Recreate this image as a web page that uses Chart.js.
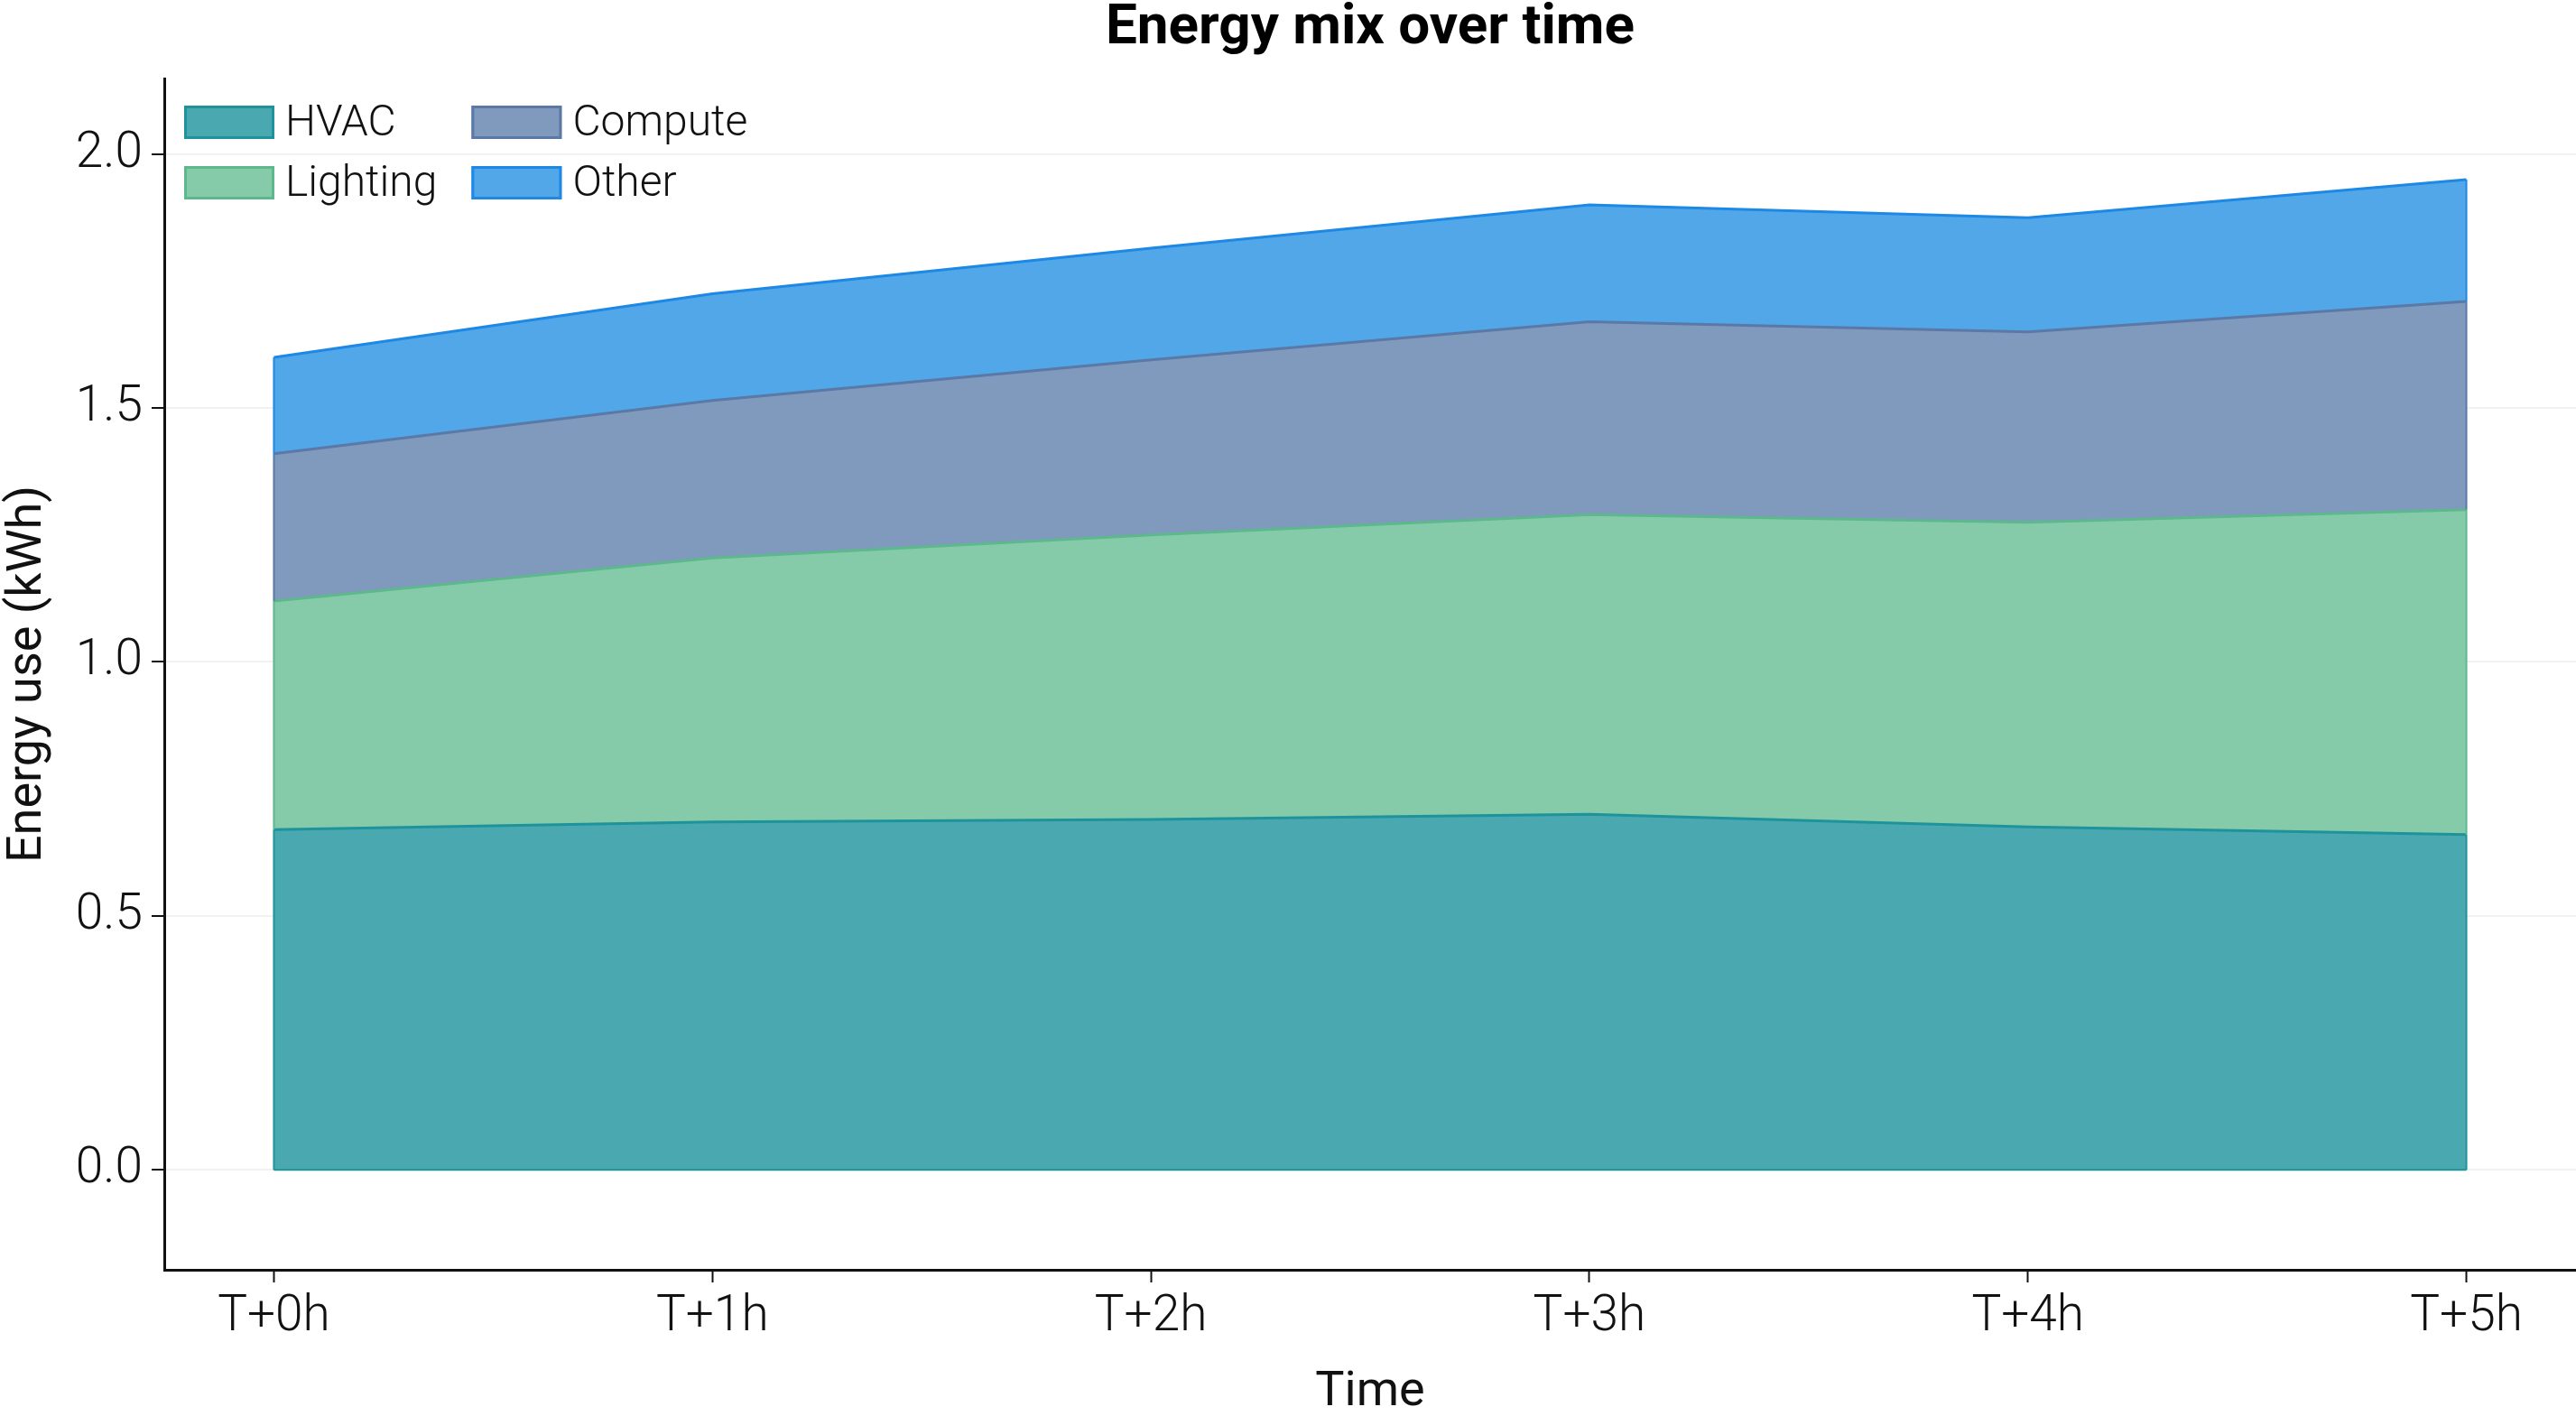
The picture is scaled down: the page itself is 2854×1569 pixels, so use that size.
<!DOCTYPE html>
<html>
<head>
<meta charset="utf-8">
<script src="https://cdn.jsdelivr.net/npm/chart.js@4.4.1/dist/chart.umd.min.js"></script>
<style>
  html, body { margin: 0; padding: 0; background: #fff; }
  #wrap { width: 2854px; height: 1569px; }
</style>
</head>
<body>
<div id="wrap"><canvas id="grafica"></canvas></div>
<script>
// ── Datos (kWh por hora) ──────────────────────────────
var horas    = ['T+0h', 'T+1h', 'T+2h', 'T+3h', 'T+4h', 'T+5h'];
var hvac     = [0.67, 0.685, 0.69, 0.70, 0.675, 0.66];
var lighting = [0.45, 0.52, 0.56, 0.59, 0.60, 0.64];
var compute  = [0.29, 0.31, 0.345, 0.38, 0.375, 0.41];
var other    = [0.19, 0.21, 0.22, 0.23, 0.225, 0.24];
var yTicks   = [0, 0.5, 1.0, 1.5, 2.0];
var titulo   = 'Energy mix over time';

function puntos(serie) {
    return serie.map(function(v, i) { return { x: i, y: v }; });
}

function serie(label, datos, fondo, borde, fill) {
    return {
        label          : label,
        data           : puntos(datos),
        backgroundColor: fondo,
        borderColor    : borde,
        borderWidth    : 3,
        pointRadius    : 0,
        tension        : 0,
        fill           : fill
    };
}

// ── Título centrado sobre el área del gráfico ─────────
var tituloPlugin = {
    id: 'titulo',
    afterDraw: function(chart) {
        var ctx = chart.ctx, area = chart.chartArea;
        ctx.save();
        ctx.font = '700 62px Roboto';
        ctx.fillStyle = '#000';
        ctx.textAlign = 'center';
        ctx.textBaseline = 'middle';
        ctx.fillText(titulo, (area.left + area.right) / 2, 32);
        ctx.restore();
    }
};

// ── Leyenda dentro del área del gráfico (2 columnas) ──
var leyendaPlugin = {
    id: 'leyenda',
    afterDraw: function(chart) {
        var ctx = chart.ctx, area = chart.chartArea;
        var columnas = [[0, 1], [2, 3]];
        var boxW = 100, boxH = 37, gap = 12, filaH = 67;
        var x = area.left + 22, y0 = area.top + 30;
        ctx.save();
        ctx.font = '300 48px Roboto';
        ctx.textBaseline = 'middle';
        ctx.textAlign = 'left';
        columnas.forEach(function(col) {
            var ancho = 0;
            col.forEach(function(idx, fila) {
                var ds = chart.data.datasets[idx];
                var y = y0 + fila * filaH;
                ctx.fillStyle = ds.backgroundColor;
                ctx.fillRect(x, y, boxW, boxH);
                ctx.strokeStyle = ds.borderColor;
                ctx.lineWidth = 3;
                ctx.strokeRect(x + 1.5, y + 1.5, boxW - 3, boxH - 3);
                ctx.fillStyle = '#111';
                ctx.fillText(ds.label, x + boxW + gap, y + boxH / 2 + 2);
                ancho = Math.max(ancho, ctx.measureText(ds.label).width);
            });
            x += boxW + gap + ancho + 38;
        });
        ctx.restore();
    }
};

// ── Bordes verticales y base del área apilada ─────────
var bordesPlugin = {
    id: 'bordes',
    afterDatasetsDraw: function(chart) {
        var ctx = chart.ctx, base = chart.scales.y.getPixelForValue(0);
        chart.data.datasets.forEach(function(ds, i) {
            var pts  = chart.getDatasetMeta(i).data;
            var prev = i > 0 ? chart.getDatasetMeta(i - 1).data : null;
            var n = pts.length - 1;
            ctx.save();
            ctx.strokeStyle = ds.borderColor;
            ctx.lineWidth = 2;
            [0, n].forEach(function(k) {
                ctx.beginPath();
                ctx.moveTo(pts[k].x, pts[k].y);
                ctx.lineTo(pts[k].x, prev ? prev[k].y : base);
                ctx.stroke();
            });
            if (!prev) {
                ctx.beginPath();
                ctx.moveTo(pts[0].x, base);
                ctx.lineTo(pts[n].x, base);
                ctx.stroke();
            }
            ctx.restore();
        });
    }
};

var ctx = document.getElementById('grafica').getContext('2d');
new Chart(ctx, {
    type: 'line',
    data: {
        datasets: [
            serie('HVAC',     hvac,     '#4AA8B0', '#1F939B', 'origin'),
            serie('Lighting', lighting, '#85CBAA', '#5DB88C', '-1'),
            serie('Compute',  compute,  '#7F9ABD', '#5A79A6', '-1'),
            serie('Other',    other,    '#52A7E8', '#1E88E5', '-1')
        ]
    },
    plugins: [bordesPlugin, leyendaPlugin, tituloPlugin],
    options: {
        responsive         : true,
        maintainAspectRatio: false,
        animation          : false,
        layout : { padding: { top: 87, left: 0, right: 0, bottom: 0 } },
        plugins: {
            legend : { display: false },
            tooltip: { enabled: false },
            title  : { display: false }
        },
        scales: {
            x: {
                type: 'linear',
                min : -0.25,
                max : 5.25,
                afterBuildTicks: function(s) {
                    s.ticks = horas.map(function(_, i) { return { value: i }; });
                },
                afterFit: function(s) { s.height = 162; },
                ticks: {
                    color: '#111',
                    padding: 6,
                    font : { family: 'Roboto', size: 55, weight: '300' },
                    callback: function(v) { return horas[v]; }
                },
                grid  : { drawOnChartArea: false, tickLength: 14, tickColor: '#111', tickWidth: 2 },
                border: { display: true, color: '#111', width: 3 },
                title : {
                    display: true, text: 'Time', color: '#111', padding: { top: 0, bottom: -7 },
                    font: { family: 'Roboto', size: 54, weight: '400', lineHeight: 1.2 }
                }
            },
            y: {
                stacked: true,
                min: -0.197,
                max: 2.149,
                afterBuildTicks: function(s) {
                    s.ticks = yTicks.map(function(v) { return { value: v }; });
                },
                afterFit: function(s) { s.width = 182; },
                ticks: {
                    color: '#111',
                    padding: 10,
                    font : { family: 'Roboto', size: 55, weight: '300' },
                    callback: function(v) { return v.toFixed(1); }
                },
                grid  : { color: '#f1f1f1', lineWidth: 2, tickLength: 14, tickColor: '#111', tickWidth: 2 },
                border: { display: true, color: '#111', width: 3 },
                title : {
                    display: true, text: 'Energy use (kWh)', color: '#111', padding: { top: 4, bottom: 0 },
                    font: { family: 'Roboto', size: 54, weight: '400', lineHeight: 1.0 }
                }
            }
        }
    }
});
</script>
</body>
</html>
